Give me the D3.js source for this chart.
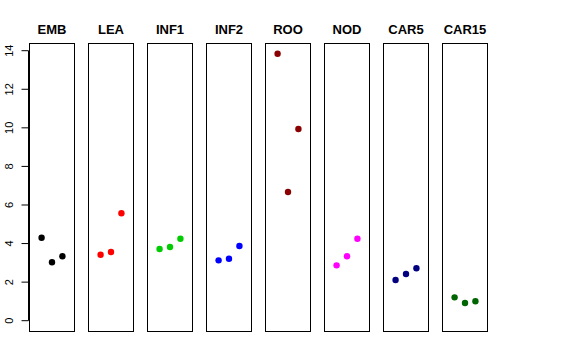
<!DOCTYPE html>
<html>
<head>
<meta charset="utf-8">
<script src="https://cdn.jsdelivr.net/npm/d3@7"></script>
<style>
html,body{margin:0;padding:0;background:#fff;}
svg{display:block;font-family:"Liberation Sans",Arial,Helvetica,sans-serif;}
</style>
</head>
<body>
<svg id="chart" width="576" height="360"></svg>
<script>
const categories = ["EMB","LEA","INF1","INF2","ROO","NOD","CAR5","CAR15"];
const colors = ["#000000","#FF0000","#00CD00","#0000FF","#8B0000","#FF00FF","#000080","#006400"];
const replicates = [1,2,3];
const valuesEMB = [4.30,3.03,3.34];
const valuesLEA = [3.42,3.56,5.57];
const valuesINF1 = [3.72,3.82,4.25];
const valuesINF2 = [3.13,3.21,3.87];
const valuesROO = [13.84,6.67,9.94];
const valuesNOD = [2.87,3.34,4.25];
const valuesCAR5 = [2.11,2.42,2.72];
const valuesCAR15 = [1.21,0.92,1.01];
const yTicks = [0,2,4,6,8,10,12,14];

const series = [valuesEMB,valuesLEA,valuesINF1,valuesINF2,valuesROO,valuesNOD,valuesCAR5,valuesCAR15];

const svg = d3.select("#chart");
const panelTop = 43.5, panelBottom = 331.5;
const panelLeft0 = 29.5, panelStep = 59, panelW = 45;

const y = d3.scaleLinear().domain([0,14]).range([320.7,50.7]);
const x = d3.scaleLinear().domain([-0.16,4.16]).range([0,panelW]);

// y axis
const axisG = svg.append("g").attr("transform","translate(28.5,0)");
axisG.append("line").attr("x1",0).attr("x2",0).attr("y1",y(0)).attr("y2",y(14)).attr("stroke","#000");
yTicks.forEach(t=>{
  axisG.append("line").attr("x1",-7).attr("x2",0).attr("y1",y(t)).attr("y2",y(t)).attr("stroke","#000");
  axisG.append("text").attr("transform",`translate(-20,${y(t)}) rotate(-90)`)
    .attr("text-anchor","middle").attr("dominant-baseline","central")
    .attr("font-size",11).attr("fill","#000").text(t);
});

categories.forEach((cat,i)=>{
  const g = svg.append("g").attr("transform",`translate(${panelLeft0+i*panelStep},0)`);
  g.append("rect").attr("x",0).attr("y",panelTop).attr("width",panelW).attr("height",panelBottom-panelTop)
    .attr("fill","none").attr("stroke","#000").attr("stroke-width",1);
  g.append("text").attr("x",panelW/2).attr("y",34).attr("text-anchor","middle")
    .attr("font-size",13).attr("font-weight","bold").attr("fill","#000").text(cat);
  g.selectAll("circle").data(series[i]).enter().append("circle")
    .attr("cx",(d,j)=>x(replicates[j])).attr("cy",d=>y(d)).attr("r",3.2)
    .attr("fill",colors[i]);
});
</script>
</body>
</html>
